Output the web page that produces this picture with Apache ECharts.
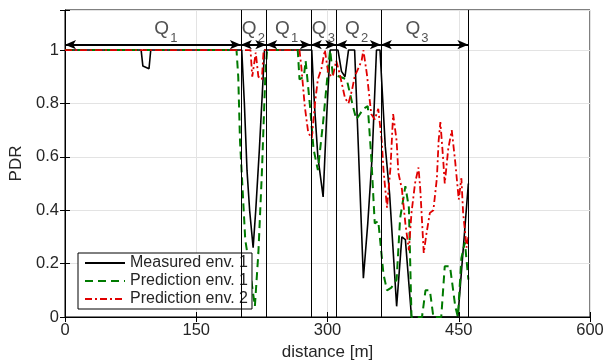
<!DOCTYPE html>
<html>
<head>
<meta charset="utf-8">
<script src="https://cdn.jsdelivr.net/npm/echarts@6/dist/echarts.min.js"></script>
<style>
html,body{margin:0;padding:0;background:#fff;}
#chart{width:607px;height:361px;}
</style>
</head>
<body>
<div id="chart"></div>
<script>
// ---- data ----
const seriesNames = ['Measured env. 1', 'Prediction env. 1', 'Prediction env. 2'];

const measuredX = [0, 87, 89, 96, 98, 202, 205, 208, 211, 215, 218, 222, 226, 228, 282, 285, 289, 295, 299, 303, 312, 316, 320, 324, 331, 341, 346, 351, 356, 360, 366, 371, 379, 385, 389, 396, 449, 455, 461];
const measuredY = [1, 1, 0.94, 0.93, 1, 1, 0.8, 0.55, 0.4, 0.26, 0.4, 0.62, 0.87, 1, 1, 0.8, 0.6, 0.45, 0.75, 1, 1, 0.92, 0.9, 1, 1, 0.145, 0.35, 0.6, 1, 1, 0.64, 0.46, 0.04, 0.3, 0.29, 0, 0, 0.25, 0.5];

const pred1X = [0, 196, 198, 200, 206, 212, 217, 221, 225, 229, 231, 266, 268, 273, 275, 280, 284, 289, 295, 301, 303, 306, 314, 322, 329, 333, 341, 346, 350, 354, 358, 364, 368, 373, 379, 383, 389, 393, 396, 408, 412, 417, 421, 430, 434, 440, 446, 449, 453, 457, 461];
const pred1Y = [1, 1, 0.9, 0.66, 0.29, 0.16, 0.04, 0.24, 0.54, 0.91, 1, 1, 0.89, 0.9, 0.96, 0.79, 0.63, 0.55, 0.73, 0.94, 1, 0.91, 0.9, 0.89, 0.79, 0.74, 0.78, 0.79, 0.6, 0.35, 0.36, 0.16, 0.1, 0.11, 0.14, 0.37, 0.49, 0.41, 0, 0, 0.1, 0.1, 0, 0, 0.19, 0.19, 0.04, 0, 0.22, 0.28, 0.14];

const pred2X = [0, 212, 214, 218, 221, 225, 227, 268, 270, 274, 278, 282, 286, 289, 293, 297, 301, 306, 310, 314, 320, 324, 328, 331, 339, 341, 345, 350, 354, 358, 362, 364, 368, 372, 375, 379, 381, 385, 389, 393, 396, 400, 404, 406, 410, 413, 417, 421, 425, 427, 429, 432, 434, 438, 442, 446, 450, 453, 455, 459, 461];
const pred2Y = [1, 1, 0.9, 0.99, 0.9, 0.89, 1, 1, 0.94, 0.79, 0.69, 0.67, 0.81, 0.89, 0.93, 1, 0.91, 0.9, 0.96, 0.91, 0.82, 0.8, 0.85, 0.9, 0.96, 1, 0.91, 0.76, 0.74, 0.78, 0.66, 0.55, 0.41, 0.56, 0.76, 0.66, 0.54, 0.48, 0.35, 0.25, 0.39, 0.5, 0.56, 0.48, 0.24, 0.31, 0.39, 0.4, 0.52, 0.66, 0.73, 0.6, 0.5, 0.63, 0.7, 0.58, 0.44, 0.52, 0.39, 0.26, 0.3];

// region boundaries (distance, m) and labels
const regionBounds = [0, 201, 230, 281, 310, 361, 461];
const regionNames = ['1', '2', '1', '3', '2', '3'];
const regionLabelX = [114, 214, 252, 294, 332, 401];
const arrowLevel = 1.02;
const labelLevel = 1.08;

const xTicks = [0, 150, 300, 450, 600];
const yTicks = [0, 0.2, 0.4, 0.6, 0.8, 1];

// ---- chart ----
const FONT = 'Liberation Sans, Arial, Helvetica, sans-serif';
const TXT = '#262626';
const zip = (xs, ys) => xs.map((x, i) => [x, ys[i]]);

const arrowPairs = [];
for (let i = 0; i < regionBounds.length - 1; i++) {
  arrowPairs.push([{coord: [regionBounds[i], arrowLevel]}, {coord: [regionBounds[i + 1], arrowLevel]}]);
}
const vLines = regionBounds.slice(1).map(b => ({xAxis: b}));

const chart = echarts.init(document.getElementById('chart'), null, {renderer: 'canvas'});

const option = {
  animation: false,
  backgroundColor: '#fff',
  textStyle: {fontFamily: FONT},
  grid: {left: 65, right: 17, top: 10, bottom: 44, outerBoundsMode: 'none', containLabel: false,
    show: true, borderColor: '#000', borderWidth: 1, backgroundColor: 'transparent'},
  xAxis: [{
    type: 'value', min: 0, max: 600, interval: 150,
    name: 'distance [m]', nameLocation: 'middle', nameGap: 25,
    nameTextStyle: {fontSize: 17, color: TXT, fontFamily: FONT},
    axisLine: {show: true, lineStyle: {color: '#000', width: 1}},
    axisTick: {show: true, inside: true, length: 5, lineStyle: {color: '#000'}},
    axisLabel: {fontSize: 16.5, color: TXT, margin: 5, fontFamily: FONT},
    splitLine: {show: true, lineStyle: {color: '#e3e3e3', width: 1}}
  }, {
    type: 'value', min: 0, max: 600, interval: 150, position: 'top',
    axisLine: {show: false}, axisTick: {show: true, inside: true, length: 5, lineStyle: {color: '#000'}},
    axisLabel: {show: false}, splitLine: {show: false}
  }],
  yAxis: [{
    type: 'value', min: 0, max: 1.15, interval: 0.2,
    name: 'PDR', nameLocation: 'middle', nameGap: 36,
    nameTextStyle: {fontSize: 17, color: TXT, fontFamily: FONT},
    axisLine: {show: true, lineStyle: {color: '#000', width: 1}},
    axisTick: {show: true, inside: true, length: 5, lineStyle: {color: '#000'}},
    axisLabel: {fontSize: 16.5, color: TXT, margin: 6, fontFamily: FONT,
      formatter: v => (v > 1.001 ? '' : String(Math.round(v * 10) / 10))},
    splitLine: {show: true, lineStyle: {color: '#e3e3e3', width: 1}}
  }, {
    type: 'value', min: 0, max: 1.15, interval: 0.2, position: 'right',
    axisLine: {show: false}, axisTick: {show: true, inside: true, length: 5, lineStyle: {color: '#000'}},
    axisLabel: {show: false}, splitLine: {show: false}
  }],
  legend: {
    data: seriesNames,
    orient: 'vertical', left: 78, top: 253,
    backgroundColor: '#fff', borderColor: '#000', borderWidth: 1,
    padding: [2, 4, 2, 6], itemGap: 2, itemWidth: 40, itemHeight: 16,
    itemStyle: {color: 'rgba(0,0,0,0)', borderColor: 'rgba(0,0,0,0)', borderWidth: 0, opacity: 0},
    textStyle: {fontSize: 16, color: TXT, fontFamily: FONT}
  },
  series: [
    {
      name: seriesNames[0], type: 'line', data: zip(measuredX, measuredY),
      symbol: 'none', color: '#000',
      lineStyle: {color: '#000', width: 1.6},
      markLine: {
        silent: true, symbol: ['none', 'none'], label: {show: false},
        lineStyle: {color: '#000', width: 1, type: 'solid'},
        data: vLines
      }
    },
    {
      name: seriesNames[1], type: 'line', data: zip(pred1X, pred1Y),
      symbol: 'none', color: '#007a00',
      lineStyle: {color: '#007a00', width: 2, type: [8, 5]}
    },
    {
      name: seriesNames[2], type: 'line', data: zip(pred2X, pred2Y),
      symbol: 'none', color: '#e00000',
      lineStyle: {color: '#e00000', width: 1.8, type: [7, 3, 2, 3]},
      markLine: {
        silent: true, symbol: ['arrow', 'arrow'], symbolSize: [7, 11],
        label: {show: false},
        lineStyle: {color: '#000', width: 2, type: 'solid'},
        data: arrowPairs
      }
    },
    {
      name: 'regionQ', type: 'scatter', symbolSize: 0, silent: true,
      data: regionLabelX.map(x => [x, labelLevel]),
      label: {show: true, position: 'inside', formatter: 'Q', fontSize: 19, color: TXT, fontFamily: FONT, offset: [-3, 0]}
    },
    {
      name: 'regionSub', type: 'scatter', symbolSize: 0, silent: true,
      data: regionLabelX.map((x, i) => ({value: [x, labelLevel], name: regionNames[i]})),
      label: {show: true, position: 'inside', formatter: p => p.name, fontSize: 13, color: TXT, fontFamily: FONT, offset: [9, 10]}
    }
  ]
};
chart.setOption(option);
</script>
</body>
</html>
